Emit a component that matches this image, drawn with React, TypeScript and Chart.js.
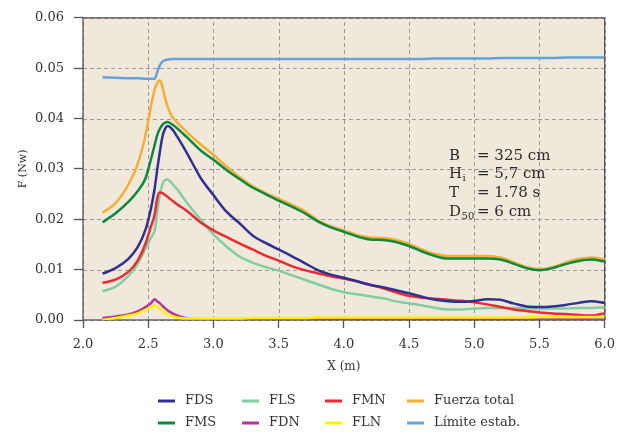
import React, { useEffect, useRef } from "react";
import { Chart, registerables } from "chart.js";

Chart.register(...registerables);

const xValues = [
  2.15, 2.25, 2.35, 2.42, 2.48, 2.52, 2.55, 2.57, 2.59, 2.61, 2.63, 2.65, 2.68, 2.72, 2.8, 2.9,
  3.0, 3.1, 3.2, 3.3, 3.4, 3.5, 3.6, 3.7, 3.8, 3.9, 4.0, 4.1, 4.2, 4.3, 4.4, 4.5, 4.6, 4.7, 4.8,
  4.9, 5.0, 5.1, 5.2, 5.3, 5.4, 5.5, 5.6, 5.7, 5.8, 5.9, 6.0,
];

const fds = [
  0.0092, 0.0103, 0.0122, 0.0145, 0.018, 0.022, 0.0262, 0.03, 0.0335, 0.0365, 0.038, 0.0385, 0.038,
  0.0365, 0.033, 0.0283, 0.0248, 0.0215, 0.0192, 0.0168, 0.0153, 0.014, 0.0127, 0.0113, 0.0099,
  0.009, 0.0084, 0.0077, 0.007, 0.0065, 0.0059, 0.0053, 0.0046, 0.004, 0.0037, 0.0036, 0.0038,
  0.0041, 0.004, 0.0033, 0.0027, 0.0026, 0.0027, 0.003, 0.0034, 0.0037, 0.0034,
];

const fms = [
  0.0194, 0.0212, 0.0235, 0.0256, 0.0282, 0.0318, 0.0348, 0.0368, 0.038, 0.0388, 0.0392, 0.0393,
  0.0389, 0.0381, 0.0362, 0.0337, 0.0318, 0.0298, 0.028, 0.0263, 0.025, 0.0237, 0.0225, 0.0212,
  0.0196, 0.0184, 0.0175, 0.0166, 0.016, 0.0159, 0.0155, 0.0147, 0.0136, 0.0127, 0.0122, 0.0122,
  0.0122, 0.0122, 0.012, 0.0112, 0.0103, 0.0099, 0.0103, 0.0111, 0.0117, 0.012, 0.0116,
];

const fls = [
  0.0057, 0.0066, 0.0088, 0.0112, 0.0142, 0.0163, 0.0178, 0.0215, 0.025, 0.027, 0.0278, 0.0279,
  0.0272, 0.026, 0.0232, 0.02, 0.017, 0.0146, 0.0126, 0.0114, 0.0105, 0.0098, 0.0089, 0.008,
  0.0071, 0.0062, 0.0055, 0.0051, 0.0047, 0.0043, 0.0037, 0.0033, 0.0029, 0.0024, 0.0021, 0.0021,
  0.0023, 0.0024, 0.0024, 0.0024, 0.0023, 0.0023, 0.0023, 0.0023, 0.0024, 0.0024, 0.0025,
];

const fdn = [
  0.0004, 0.0007, 0.0011, 0.0017, 0.0026, 0.0033, 0.0041, 0.0037, 0.0033, 0.0028, 0.0023, 0.0019,
  0.0014, 0.0009, 0.0003, 0.0001, 0.0001, 0.0001, 0.0001, 0.0001, 0.0001, 0.0001, 0.0001, 0.0001,
  0.0001, 0.0001, 0.0001, 0.0001, 0.0001, 0.0001, 0.0001, 0.0001, 0.0001, 0.0001, 0.0001, 0.0001,
  0.0001, 0.0001, 0.0001, 0.0001, 0.0001, 0.0001, 0.0001, 0.0001, 0.0001, 0.0001, 0.0001,
];

const fmn = [
  0.0074, 0.008, 0.0096, 0.0118, 0.0152, 0.0185, 0.021, 0.0243, 0.0253, 0.0252, 0.0248, 0.0244,
  0.0238, 0.023, 0.0216, 0.0194, 0.0178, 0.0165, 0.0152, 0.014, 0.0128, 0.0118, 0.0107, 0.0099,
  0.0093, 0.0087, 0.0082, 0.0077, 0.007, 0.0063, 0.0055, 0.0048, 0.0044, 0.0042, 0.004, 0.0038,
  0.0035, 0.0031, 0.0026, 0.0021, 0.0018, 0.0015, 0.0013, 0.0012, 0.001, 0.0009, 0.0013,
];

const fln = [
  0.0, 0.0004, 0.0009, 0.0013, 0.002, 0.0025, 0.003, 0.0026, 0.0022, 0.0018, 0.0014, 0.0011,
  0.0008, 0.0005, 0.0003, 0.0003, 0.0003, 0.0003, 0.0003, 0.0004, 0.0004, 0.0004, 0.0004, 0.0004,
  0.0005, 0.0005, 0.0005, 0.0005, 0.0005, 0.0005, 0.0005, 0.0005, 0.0005, 0.0005, 0.0005, 0.0005,
  0.0005, 0.0005, 0.0005, 0.0005, 0.0005, 0.0006, 0.0006, 0.0006, 0.0006, 0.0006, 0.0006,
];

const fuerzaTotal = [
  0.0213, 0.0232, 0.027, 0.031, 0.0368, 0.0423, 0.0458, 0.0471, 0.0476, 0.0462, 0.044, 0.0423,
  0.0405, 0.0393, 0.0372, 0.0349, 0.0328, 0.0305, 0.0284, 0.0266, 0.0252, 0.0241, 0.0229, 0.0216,
  0.0198, 0.0186, 0.0178, 0.0169, 0.0164, 0.0163, 0.0159, 0.0151, 0.014, 0.0131, 0.0127, 0.0127,
  0.0127, 0.0127, 0.0124, 0.0115, 0.0105, 0.0101, 0.0105, 0.0114, 0.0121, 0.0124, 0.012,
];

const limiteEstab = [
  0.0482, 0.0481, 0.048, 0.048, 0.0479, 0.0479, 0.0479, 0.0493, 0.0506, 0.0513, 0.0516, 0.0517,
  0.0518, 0.0518, 0.0518, 0.0518, 0.0518, 0.0518, 0.0518, 0.0518, 0.0518, 0.0518, 0.0518, 0.0518,
  0.0518, 0.0518, 0.0518, 0.0518, 0.0518, 0.0518, 0.0518, 0.0518, 0.0518, 0.0519, 0.0519, 0.0519,
  0.0519, 0.0519, 0.052, 0.052, 0.052, 0.052, 0.052, 0.0521, 0.0521, 0.0521, 0.0521,
];

const seriesLabels = ["FDS", "FLS", "FMN", "Fuerza total", "FMS", "FDN", "FLN", "Límite estab."];
const seriesColors = ["#2e3192", "#80cfa0", "#ec2a30", "#f6ae2d", "#0a8a3e", "#b8329a", "#fff200", "#66a3d9"];
const seriesData = [fds, fls, fmn, fuerzaTotal, fms, fdn, fln, limiteEstab];
const seriesOrder = [5, 7, 6, 4, 3, 2, 1, 8];

const xTitle = "X (m)";
const yTitle = "F (Nw)";

const SERIF = "'DejaVu Serif', serif";

export default function App() {
  const ref = useRef<HTMLCanvasElement>(null);

  useEffect(() => {
    const canvas = ref.current;
    if (!canvas) return;

    const datasets = seriesLabels.map((label, i) => ({
      label,
      data: xValues.map((x, j) => ({ x, y: seriesData[i][j] })),
      borderColor: seriesColors[i],
      backgroundColor: seriesColors[i],
      borderWidth: 2.5,
      pointRadius: 0,
      fill: false,
      cubicInterpolationMode: "monotone" as const,
      order: seriesOrder[i],
    }));

    const decor = {
      id: "decor",
      beforeDraw(chart: any) {
        const { ctx, chartArea: a } = chart;
        ctx.save();
        ctx.fillStyle = "#fff";
        ctx.fillRect(0, 0, chart.width, chart.height);
        ctx.fillStyle = "#f1e8dc";
        ctx.fillRect(a.left, a.top, a.right - a.left, a.bottom - a.top);
        ctx.restore();
      },
      beforeDatasetsDraw(chart: any) {
        const { ctx, chartArea: a } = chart;
        const xs = chart.scales.x;
        const ys = chart.scales.y;
        ctx.save();
        ctx.strokeStyle = "#9a9a9a";
        ctx.lineWidth = 1;
        ctx.setLineDash([4, 3]);
        xs.ticks.forEach((t: any) => {
          const px = Math.round(xs.getPixelForValue(t.value)) + 0.5;
          ctx.beginPath();
          ctx.moveTo(px, a.bottom);
          ctx.lineTo(px, a.top);
          ctx.stroke();
        });
        ys.ticks.forEach((t: any) => {
          const py = Math.round(ys.getPixelForValue(t.value)) + 0.5;
          ctx.beginPath();
          ctx.moveTo(a.left, py);
          ctx.lineTo(a.right, py);
          ctx.stroke();
        });
        ctx.setLineDash([]);
        ctx.strokeStyle = "#555";
        ctx.lineWidth = 1.3;
        ctx.strokeRect(a.left, a.top, a.right - a.left, a.bottom - a.top);
        ctx.restore();
      },
      afterDraw(chart: any) {
        const { ctx, chartArea: a } = chart;
        ctx.save();
        ctx.fillStyle = "#333";
        // axis titles
        ctx.font = `12px ${SERIF}`;
        ctx.textAlign = "center";
        ctx.textBaseline = "middle";
        ctx.fillText(xTitle, (a.left + a.right) / 2, 367);
        ctx.save();
        ctx.translate(23, (a.top + a.bottom) / 2);
        ctx.rotate(-Math.PI / 2);
        ctx.font = `11px ${SERIF}`;
        ctx.fillText(yTitle, 0, 0);
        ctx.restore();

        // annotation
        ctx.fillStyle = "#2a2a2a";
        ctx.textAlign = "left";
        ctx.textBaseline = "alphabetic";
        const big = `15px ${SERIF}`;
        const small = `10px ${SERIF}`;
        const xl = 449;
        const xe = 477;
        const rows: [string, string, string][] = [
          ["B", "", "= 325 cm"],
          ["H", "i", "= 5,7 cm"],
          ["T", "", "= 1.78 s"],
          ["D", "50", "= 6 cm"],
        ];
        const baselines = [160, 178, 197, 216];
        rows.forEach(([m, sub, rest], i) => {
          ctx.font = big;
          ctx.fillText(m, xl, baselines[i]);
          const w = ctx.measureText(m).width;
          if (sub) {
            ctx.font = small;
            ctx.fillText(sub, xl + w + 0.5, baselines[i] + 3);
          }
          ctx.font = big;
          ctx.fillText(rest, xe, baselines[i]);
        });

        // legend
        const colX = [158, 242, 325, 407];
        const rowY = [401, 423];
        ctx.font = `13px ${SERIF}`;
        ctx.textBaseline = "middle";
        seriesLabels.forEach((label, i) => {
          const cx = colX[i % 4];
          const cy = rowY[Math.floor(i / 4)];
          ctx.strokeStyle = seriesColors[i];
          ctx.lineWidth = 3;
          ctx.beginPath();
          ctx.moveTo(cx, cy);
          ctx.lineTo(cx + 17, cy);
          ctx.stroke();
          ctx.fillStyle = "#333";
          ctx.fillText(label, cx + 27, cy);
        });
        ctx.restore();
      },
    };

    const chart = new Chart(canvas, {
      type: "line",
      data: { datasets },
      options: {
        responsive: false,
        animation: false,
        layout: { padding: { top: 14, right: 18, left: 0, bottom: 0 } },
        plugins: { legend: { display: false }, tooltip: { enabled: false } },
        scales: {
          x: {
            type: "linear",
            min: 2,
            max: 6,
            afterFit(scale: any) {
              scale.height = 115;
            },
            ticks: {
              stepSize: 0.5,
              padding: 9,
              color: "#333",
              font: { family: SERIF, size: 13 },
              callback: (v: any) => Number(v).toFixed(1),
            },
            grid: {
              drawOnChartArea: false,
              tickLength: 8,
              color: "#555",
              tickColor: "#555",
              tickWidth: 1.3,
            },
            border: { display: false },
          },
          y: {
            type: "linear",
            min: 0,
            max: 0.06,
            afterFit(scale: any) {
              scale.width = 83;
            },
            ticks: {
              stepSize: 0.01,
              padding: 10,
              color: "#333",
              font: { family: SERIF, size: 13 },
              callback: (v: any) => Number(v).toFixed(2),
            },
            grid: {
              drawOnChartArea: false,
              tickLength: 9,
              color: "#555",
              tickColor: "#555",
              tickWidth: 1.3,
            },
            border: { display: false },
          },
        },
      } as any,
      plugins: [decor],
    });

    return () => chart.destroy();
  }, []);

  return (
    <div style={{ position: "fixed", left: 0, top: 0, width: 624, height: 435, background: "#fff" }}>
      <canvas ref={ref} width={624} height={435} style={{ width: 624, height: 435, display: "block" }} />
    </div>
  );
}
